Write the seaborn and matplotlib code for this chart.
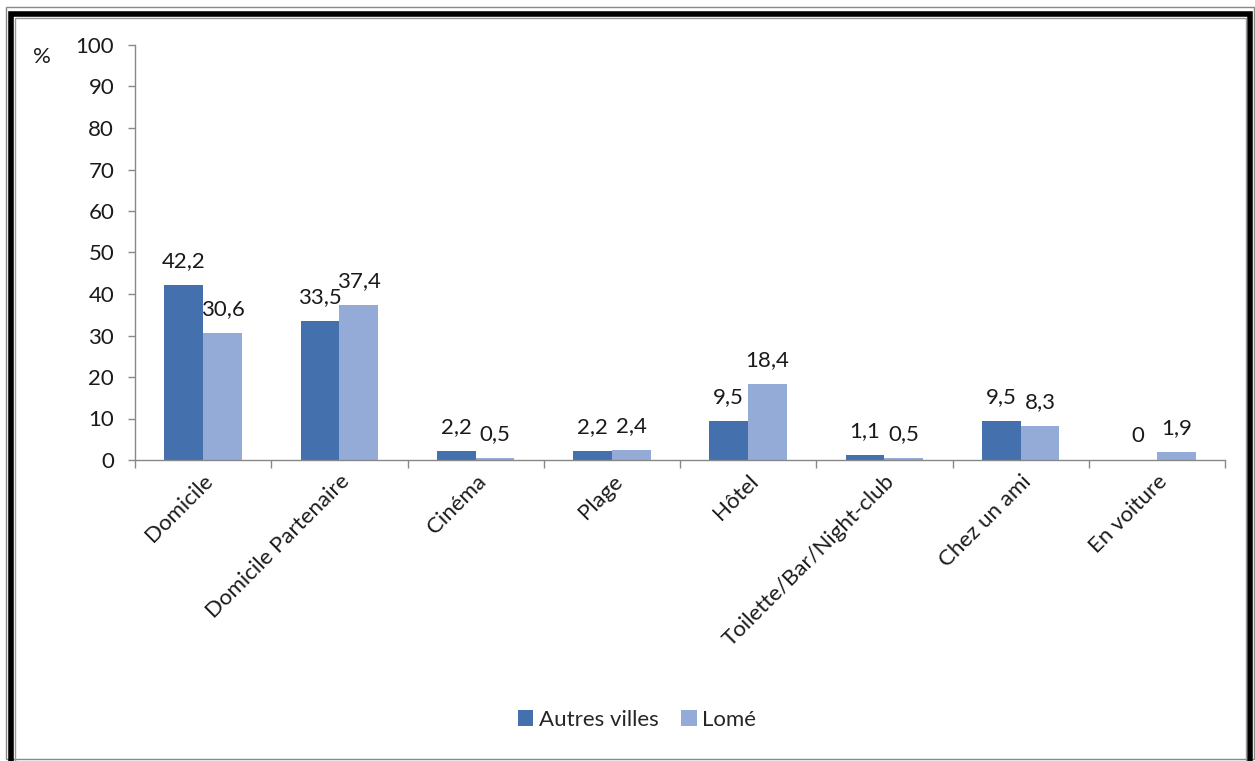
import matplotlib
matplotlib.use("Agg")
import matplotlib.pyplot as plt
import seaborn as sns
import pandas as pd
from matplotlib.patches import Rectangle

categories = ["Domicile", "Domicile Partenaire", "Cinéma", "Plage", "Hôtel",
              "Toilette/Bar/Night-club", "Chez un ami", "En voiture"]
autres_villes = [42.2, 33.5, 2.2, 2.2, 9.5, 1.1, 9.5, 0]
lome = [30.6, 37.4, 0.5, 2.4, 18.4, 0.5, 8.3, 1.9]
series_names = ["Autres villes", "Lomé"]
yticks = [0, 10, 20, 30, 40, 50, 60, 70, 80, 90, 100]

df = pd.DataFrame({
    "cat": categories * 2,
    "val": autres_villes + lome,
    "serie": [series_names[0]] * len(categories) + [series_names[1]] * len(categories),
})

sns.set_theme(style="white")
plt.rcParams["font.family"] = ["Lato", "DejaVu Sans"]

FS = 16
TXT = "#1a1a1a"
W, H = 1255, 761
fig = plt.figure(figsize=(W / 100, H / 100), dpi=100)
ax = fig.add_axes([135 / W, 1 - 460 / H, (1225 - 135) / W, (460 - 45) / H])

colors = ["#4470AE", "#93ABD6"]
sns.barplot(data=df, x="cat", y="val", hue="serie", order=categories,
            hue_order=series_names, palette=colors, width=0.57, saturation=1,
            linewidth=0, ax=ax, legend=True)

for i, cont in enumerate(ax.containers):
    vals = autres_villes if i == 0 else lome
    labs = [("%g" % v).replace(".", ",") for v in vals]
    ax.bar_label(cont, labels=labs, padding=10, fontsize=FS, color=TXT)

ax.set_xlim(-0.5, len(categories) - 0.5)
ax.set_ylim(0, 100)
ax.set_yticks(yticks)
ax.set_yticklabels([str(t) for t in yticks], fontsize=FS, color=TXT)
ax.set_xticks(range(len(categories)))
ax.set_xticklabels(categories, rotation=45, ha="right", va="top",
                   rotation_mode="anchor", fontsize=FS, color=TXT)
ax.set_xticks([i - 0.5 for i in range(len(categories) + 1)], minor=True)
ax.tick_params(axis="x", which="major", length=0, pad=8)
ax.tick_params(axis="x", which="minor", length=6, color="#888888", width=1, direction="out", bottom=True)
ax.tick_params(axis="y", length=5, color="#888888", width=1, direction="out", left=True, pad=10)
ax.set_xlabel("")
ax.set_ylabel("")
for s in ["top", "right"]:
    ax.spines[s].set_visible(False)
for s in ["left", "bottom"]:
    ax.spines[s].set_color("#888888")
    ax.spines[s].set_linewidth(1)
ax.grid(False)

fig.text(42 / W, 1 - 57 / H, "%", fontsize=FS, ha="center", va="center", color=TXT)

handles, labels = ax.get_legend_handles_labels()
ax.legend_.remove()
fig.legend(handles, labels, loc="center", bbox_to_anchor=(637 / W, 1 - 720 / H),
           ncol=2, frameon=False, fontsize=FS, handlelength=0.7, handleheight=0.7,
           handletextpad=0.25, columnspacing=1.0)

# frame
fig.patches.append(Rectangle((6 / W, 1 - 759 / H), (1254 - 6) / W, (759 - 7) / H,
                             transform=fig.transFigure, fill=False, edgecolor="#888888", lw=1))
fig.patches.append(Rectangle((11 / W, -0.05), (1250 - 11) / W, 1 - 14 / H + 0.05,
                             transform=fig.transFigure, fill=False, edgecolor="black", lw=4))
fig.patches.append(Rectangle((15 / W, -0.05), (1246 - 15) / W, 1 - 18 / H + 0.05,
                             transform=fig.transFigure, fill=False, edgecolor="#999999", lw=1))

fig.savefig("out.png", dpi=100)
